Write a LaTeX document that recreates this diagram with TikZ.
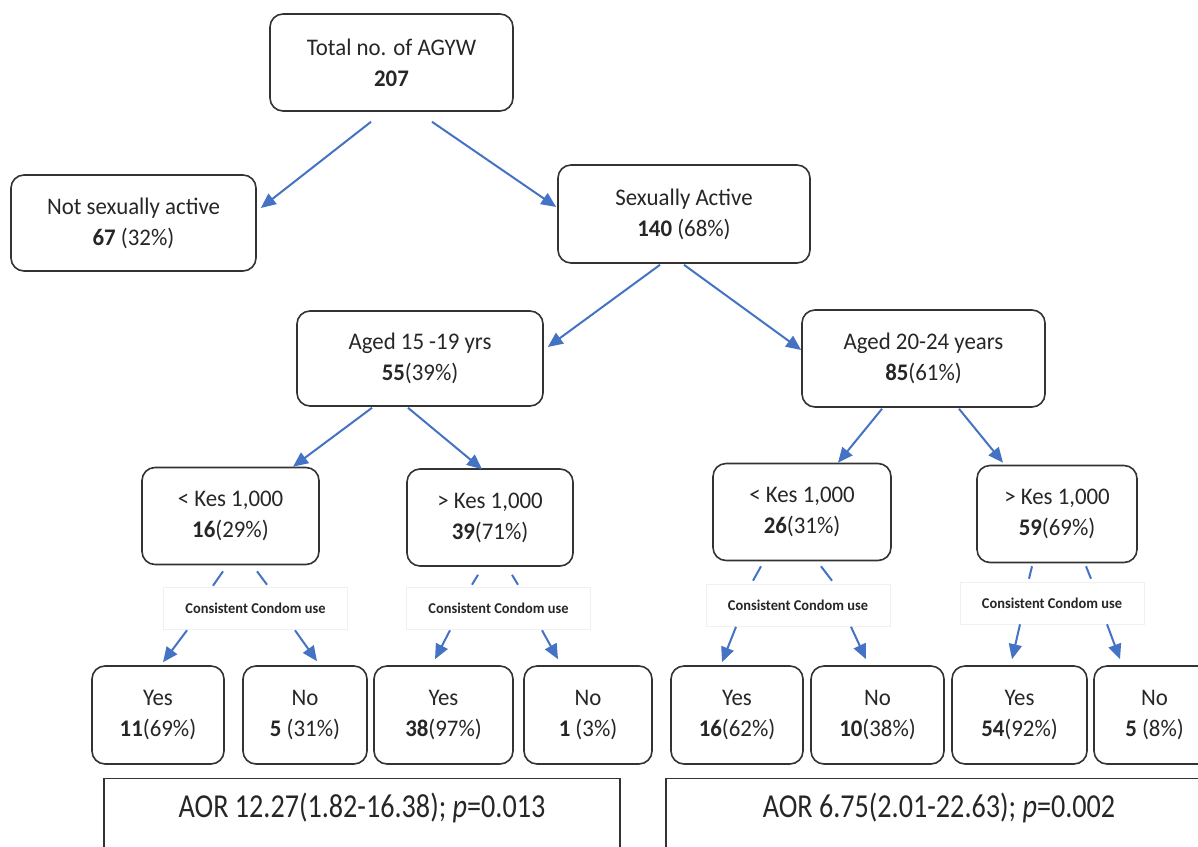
\documentclass[tikz,border=0pt]{standalone}
\usepackage{fontspec}
\setmainfont{Carlito}[FakeStretch=0.96]
\newfontfamily\aorfont{Carlito}[FakeStretch=0.84]
\usetikzlibrary{arrows.meta}
\definecolor{arrowBlue}{RGB}{68,114,196}

\begin{document}
\begin{tikzpicture}
[x=1pt,y=-1pt,
  boxNode/.style={draw=black!80,line width=1.6pt,rounded corners=13pt,align=center,text=black!85,
    font=\fontsize{23.8}{31}\selectfont,inner sep=0pt},
  blueArrow/.style={-{Triangle[length=15pt,width=13pt]},line width=2pt,color=arrowBlue},
  stubLine/.style={line width=2pt,color=arrowBlue},
  labelBox/.style={draw=black!6,line width=0.6pt,minimum width=184pt,minimum height=42pt,inner sep=0pt,
    font=\fontsize{15}{17}\selectfont\bfseries,text=black!85},
  resultBox/.style={draw=black!80,line width=1.4pt,anchor=north,inner ysep=0pt,
    text height=39pt,text depth=54pt,text=black!85,font=\aorfont\fontsize{33.5}{36}\selectfont}]
\useasboundingbox (0,0) rectangle (1198,846);

%% upper tree
\node[boxNode,minimum width=243pt,minimum height=97pt] (total) at (391.5,62.5) {Total no. of AGYW\\\textbf{207}};
\node[boxNode,minimum width=245pt,minimum height=96pt] (notsa) at (133.5,223) {Not sexually active\\\textbf{67} (32\%)};
\node[boxNode,minimum width=252pt,minimum height=98pt] (sa) at (684,214) {Sexually Active\\\textbf{140} (68\%)};
\node[boxNode,minimum width=246pt,minimum height=95pt] (a1519) at (420,358.5) {Aged 15 -19 yrs\\\textbf{55}(39\%)};
\node[boxNode,minimum width=243pt,minimum height=97pt] (a2024) at (923.5,358.5) {Aged 20-24 years\\\textbf{85}(61\%)};

%% income groups
\foreach \nodename/\x/\y/\w/\head/\num/\pct in {
  k1lo/230.5/516/177/{< Kes 1,000}/16/(29\%), k1hi/490/517.5/166/{> Kes 1,000}/39/(71\%),
  k2lo/802/512/178/{< Kes 1,000}/26/(31\%), k2hi/1057/514/160/{> Kes 1,000}/59/(69\%)}
{
  \node[boxNode,minimum width=\w pt,minimum height=97pt] (\nodename) at (\x,\y) {\head\\\textbf{\num}\pct};
}

%% condom use labels
\foreach \nodename/\x/\y in {ccA/255.5/608.5, ccB/498.5/608, ccC/798/605.5, ccD/1052/603}
{
  \node[labelBox] (\nodename) at (\x,\y) {Consistent Condom use};
}

%% answers
\foreach \nodename/\x/\w/\ans/\num/\pct in {
  y1/158/132/Yes/11/(69\%), n1/305/124/No/5/\ (31\%), y2/443.5/139/Yes/38/(97\%), n2/588/128/No/1/\ (3\%),
  y3/737/132/Yes/16/(62\%), n3/877.5/133/No/10/(38\%), y4/1019.5/135/Yes/54/(92\%), n4/1154.5/121/No/5/\ (8\%)}
{
  \node[boxNode,minimum width=\w pt,minimum height=98pt] (\nodename) at (\x,715) {\ans\\\textbf{\num}\pct};
}

%% adjusted odds ratios
\node[resultBox,minimum width=516pt] (aorA) at (362,778) {AOR 12.27(1.82-16.38); \textit{p}=0.013};
\node[resultBox,minimum width=546pt] (aorB) at (939,778) {AOR 6.75(2.01-22.63); \textit{p}=0.002};

%% arrows between boxes
\foreach \from/\fa/\fx/\fy/\to/\ta/\tx/\ty in {
  total/south/-20.5/10/notsa/east/4/-15, total/south/40.5/10/sa/west/-1/-7,
  sa/south/-24/1/a1519/east/4/-11.5, sa/south/0/1/a2024/west/0/-8.5,
  a1519/south/-48/1/k1lo/north/62.5/0, a1519/south/-12/1/k1hi/north/-8/1,
  a2024/south/-41.5/1/k2lo/north/36/0, a2024/south/35.5/1/k2hi/north/-54/-2,
  ccA/south/-68.5/0.5/y1/north/5/-3, ccA/south/39.5/0.5/n1/north/12/-4,
  ccB/south/-48.5/1/y2/north/-8.5/-6, ccB/south/43.5/1/n2/north/-30/-6,
  ccC/south/-62/0/y3/north/-15/-3, ccC/south/53/0/n3/north/-11.5/-6,
  ccD/south/-32/0/y4/north/-7.5/-6, ccD/south/55/0/n4/north/-34.5/-6}
{
  \draw[blueArrow] ([shift={(\fx,\fy)}]\from.\fa) -- ([shift={(\tx,\ty)}]\to.\ta);
}

%% short stubs towards the labels
\foreach \from/\fx/\fy/\to/\tx/\ty in {
  k1lo/-7.5/6/ccA/-42.5/-1.5, k1lo/26.5/6/ccA/11.5/-2.5,
  k1hi/-12/8/ccB/-26.5/-2, k1hi/22/8/ccB/19.5/-2,
  k2lo/-41/5/ccC/-45/-3.5, k2lo/19/5/ccC/34/-3.5,
  k2hi/-25/3/ccD/-23/-3, k2hi/29/3/ccD/39/-3}
{
  \draw[stubLine] ([shift={(\fx,\fy)}]\from.south) -- ([shift={(\tx,\ty)}]\to.north);
}
\end{tikzpicture}
\end{document}
